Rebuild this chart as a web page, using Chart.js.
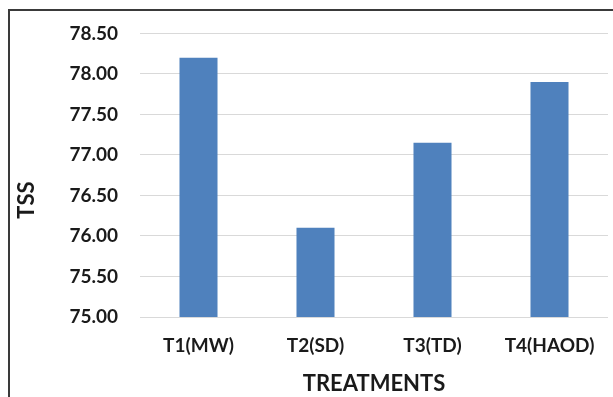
<!DOCTYPE html>
<html lang="en">
<head>
    <meta charset="UTF-8">
    <title>TSS</title>
    <script src="https://cdn.jsdelivr.net/npm/chart.js"></script>
    <style>
        body { margin: 0; background: #fff; }
        .caixa { position: relative; width: 613px; height: 397px; overflow: hidden; }
        .borda { position: absolute; left: 8px; top: 9px; width: 700px; height: 500px;
                 border-top: 2px solid #3a3a3a; border-left: 2px solid #3a3a3a; }
        canvas { position: absolute; left: 0; top: 0; }
    </style>
</head>
<body>
    <div class="caixa">
        <div class="borda"></div>
        <canvas id="myChart" width="613" height="397"></canvas>
    </div>

<script>
// dados
var tratamentos = ["T1(MW)", "T2(SD)", "T3(TD)", "T4(HAOD)"];
var tss = [78.2, 76.1, 77.15, 77.9];
var eixoMin = 75;
var eixoMax = 78.5;
var passo = 0.5;
var tituloY = "TSS";

var fonte = { family: "Lato", size: 19, weight: "bold" };
var fonteTitulo = { family: "Lato", size: 22, weight: "bold" };

// titulo do eixo y desenhado um pouco abaixo do meio, como no original
const tituloEixoY = {
    id: 'tituloEixoY',
    afterDraw: function (chart) {
        const ctx = chart.ctx;
        ctx.save();
        ctx.translate(27, 200);
        ctx.rotate(-Math.PI / 2);
        ctx.font = "bold 22px Lato";
        ctx.fillStyle = "#1a1a1a";
        ctx.textAlign = "center";
        ctx.textBaseline = "middle";
        ctx.fillText(tituloY, 0, 0);
        ctx.restore();
    }
};

var dados = {
    labels: tratamentos,
    datasets: [{
        label: "TSS",
        data: tss,
        backgroundColor: "#4f81bd",
        borderWidth: 0,
        categoryPercentage: 1,
        barPercentage: 0.325
    }]
};

const config = {
    type: 'bar',
    data: dados,
    options: {
        responsive: false,
        animation: false,
        layout: { padding: { left: 0, right: 5, top: 31, bottom: 0 } },
        plugins: { legend: { display: false }, tooltip: { enabled: false } },
        scales: {
            x: {
                grid: { display: false, drawTicks: false },
                border: { display: false },
                ticks: { color: "#1a1a1a", font: fonte, padding: 17, maxRotation: 0 },
                title: { display: true, text: "TREATMENTS", color: "#1a1a1a", font: fonteTitulo, padding: { top: 0, bottom: 0 } },
                afterFit: function (eixo) { eixo.height = 80; }
            },
            y: {
                min: eixoMin,
                max: eixoMax,
                grid: { color: "#d9d9d9", lineWidth: 1, drawTicks: false },
                border: { display: false },
                ticks: {
                    stepSize: passo,
                    color: "#1a1a1a",
                    font: fonte,
                    padding: 22,
                    callback: function (v) { return Number(v).toFixed(2); }
                },
                afterFit: function (eixo) { eixo.width = 140; }
            }
        }
    },
    plugins: [tituloEixoY]
};

let myChart = new Chart(document.getElementById("myChart"), config);
</script>
</body>
</html>
